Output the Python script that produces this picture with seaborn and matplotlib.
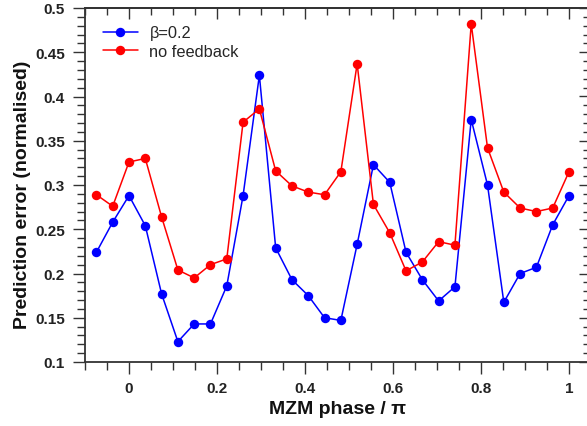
import numpy as np
import pandas as pd
import matplotlib
matplotlib.use("Agg")
import matplotlib.pyplot as plt
from matplotlib.ticker import MultipleLocator
import seaborn as sns

# ---- data ----
phase_idx = list(range(-2, 28))
phase = [i / 27 for i in phase_idx]

beta_02 = [0.224, 0.258, 0.288, 0.254, 0.177, 0.123, 0.143, 0.143, 0.186, 0.288,
           0.424, 0.229, 0.193, 0.175, 0.150, 0.147, 0.233, 0.323, 0.303, 0.224,
           0.193, 0.169, 0.185, 0.374, 0.300, 0.1675, 0.200, 0.207, 0.255, 0.288]
no_feedback = [0.289, 0.276, 0.326, 0.330, 0.264, 0.204, 0.195, 0.210, 0.2165, 0.371,
               0.386, 0.316, 0.299, 0.292, 0.289, 0.315, 0.437, 0.278, 0.246, 0.203,
               0.213, 0.236, 0.232, 0.482, 0.342, 0.292, 0.274, 0.270, 0.274, 0.315]
series_names = ["β=0.2", "no feedback"]
series_colors = ["#0000FF", "#FF0000"]
x_ticks = [0, 0.2, 0.4, 0.6, 0.8, 1.0]
x_ticklabels = ["0", "0.2", "0.4", "0.6", "0.8", "1"]
y_ticks = [0.1, 0.15, 0.2, 0.25, 0.3, 0.35, 0.4, 0.45, 0.5]
y_ticklabels = ["0.1", "0.15", "0.2", "0.25", "0.3", "0.35", "0.4", "0.45", "0.5"]

df = pd.DataFrame({
    "phase": phase * 2,
    "err": beta_02 + no_feedback,
    "series": [series_names[0]] * len(phase) + [series_names[1]] * len(phase),
})

sns.set_style("ticks")
plt.rcParams["font.family"] = ["Liberation Sans", "DejaVu Sans"]

fig = plt.figure(figsize=(5.87, 4.27), dpi=100)
ax = fig.add_axes([85 / 587, 1 - 363 / 427, (591 - 85) / 587, (363 - 9) / 427])

sns.lineplot(data=df, x="phase", y="err", hue="series", hue_order=series_names,
             palette=dict(zip(series_names, series_colors)), marker="o",
             markersize=6.8, markeredgewidth=0, linewidth=1.1, ax=ax,
             sort=False, estimator=None)

ax.set_xlim(-0.1, 1.05)
ax.set_ylim(0.1, 0.5)

ax.xaxis.set_minor_locator(MultipleLocator(0.05))
ax.yaxis.set_minor_locator(MultipleLocator(0.01))
ax.set_xticks(x_ticks)
ax.set_xticklabels(x_ticklabels)
ax.set_yticks(y_ticks)
ax.set_yticklabels(y_ticklabels)

spine_c = "#333333"
for s in ax.spines.values():
    s.set_color(spine_c)
    s.set_linewidth(1.3)

ax.tick_params(which="major", direction="out", length=8.6, width=1.0, color=spine_c,
               labelsize=11)
ax.tick_params(which="minor", direction="out", length=5.7, width=1.0, color=spine_c)
ax.tick_params(axis="x", which="major", pad=5)
ax.tick_params(axis="y", which="major", pad=5.8)
for lab in ax.get_xticklabels() + ax.get_yticklabels():
    lab.set_fontweight("bold")
    lab.set_color("#222222")

# top / right inward ticks
top = ax.secondary_xaxis("top")
top.xaxis.set_major_locator(MultipleLocator(0.2))
top.xaxis.set_minor_locator(MultipleLocator(0.05))
top.tick_params(which="major", direction="in", length=8.0, width=1.0, color=spine_c, labeltop=False)
top.tick_params(which="minor", direction="in", length=5.0, width=1.0, color=spine_c)
top.spines["top"].set_color(spine_c)
top.spines["top"].set_linewidth(1.3)
right = ax.secondary_yaxis("right")
right.yaxis.set_major_locator(MultipleLocator(0.05))
right.yaxis.set_minor_locator(MultipleLocator(0.01))
right.tick_params(which="major", direction="in", length=8.4, width=1.0, color=spine_c, labelright=False)
right.tick_params(which="minor", direction="in", length=5.5, width=1.0, color=spine_c)
right.spines["right"].set_color(spine_c)

ax.set_xlabel("MZM phase / π", fontsize=14, fontweight="bold", color="#111111")
ax.set_ylabel("Prediction error (normalised)", fontsize=14, fontweight="bold",
              color="#111111")
ax.xaxis.set_label_coords(0.5, -0.107)
ax.yaxis.set_label_coords(-0.107, 0.475)

leg = ax.legend(loc="upper left", frameon=False, fontsize=11.8, handlelength=2.1,
                handletextpad=0.72, labelspacing=0.22, borderaxespad=0.0,
                borderpad=0.0, bbox_to_anchor=(0.036, 0.951))

fig.savefig("out.png", dpi=100)
